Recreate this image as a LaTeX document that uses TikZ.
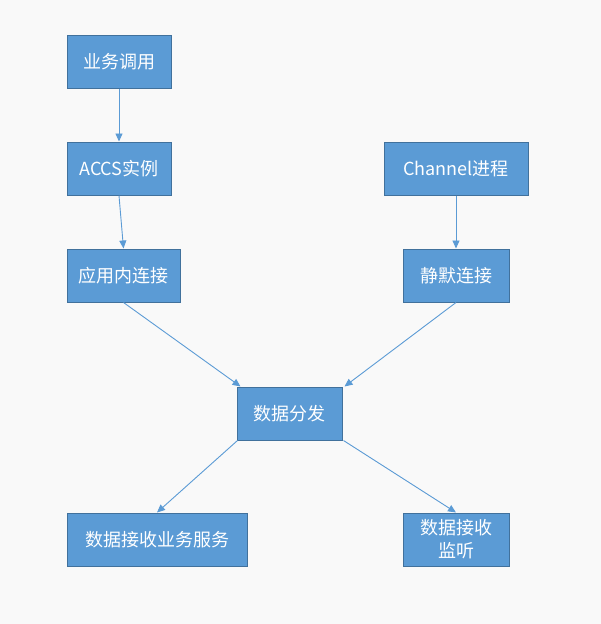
\documentclass[tikz,border=0pt]{standalone}
\usepackage{fontspec}
\setmainfont{Noto Sans CJK SC}
\usetikzlibrary{arrows.meta,calc}
\definecolor{boxfill}{HTML}{5B9BD5}
\definecolor{boxline}{HTML}{41719C}
\definecolor{bg}{HTML}{F9F9F9}
\begin{document}
\begin{tikzpicture}[x=1pt,y=-1pt,
  box/.style={draw=boxline,line width=1pt,fill=boxfill,text=white,inner sep=0pt,
    font=\fontsize{18}{23}\selectfont,align=center,minimum height=53pt},
  conn/.style={draw=boxfill,line width=0.9pt,-{Triangle[length=8pt,width=7pt]}}]
\fill[bg] (0,0) rectangle (601,624);
\useasboundingbox (0,0) rectangle (601,624);
\node[box,minimum width=104pt] (biz) at (119,61.5) {业务调用};
\node[box,minimum width=104pt] (accs) at (119,168.5) {ACCS实例};
\node[box,minimum width=144pt] (chan) at (456,168.5) {Channel进程};
\node[box,minimum width=113pt] (app) at (123.5,275.5) {应用内连接};
\node[box,minimum width=106pt] (jing) at (456,275.5) {静默连接};
\node[box,minimum width=105pt] (dist) at (289.5,413.5) {数据分发};
\node[box,minimum width=180pt] (recv) at (157,539.5) {数据接收业务服务};
\node[box,minimum width=106pt] (lis) at (456,539.5) {数据接收\\监听};
\draw[conn] (biz.south) -- (accs.north);
\draw[conn] (accs.south) -- (app.north);
\draw[conn] (chan.south) -- (jing.north);
\draw[conn] (app.south) -- ($(dist.north west)+(4,0)$);
\draw[conn] (jing.south) -- ($(dist.north east)+(2,0)$);
\draw[conn] ($(dist.south west)+(1,0)$) -- (recv.north);
\draw[conn] ($(dist.south east)+(1,0)$) -- (lis.north);
\end{tikzpicture}
\end{document}
